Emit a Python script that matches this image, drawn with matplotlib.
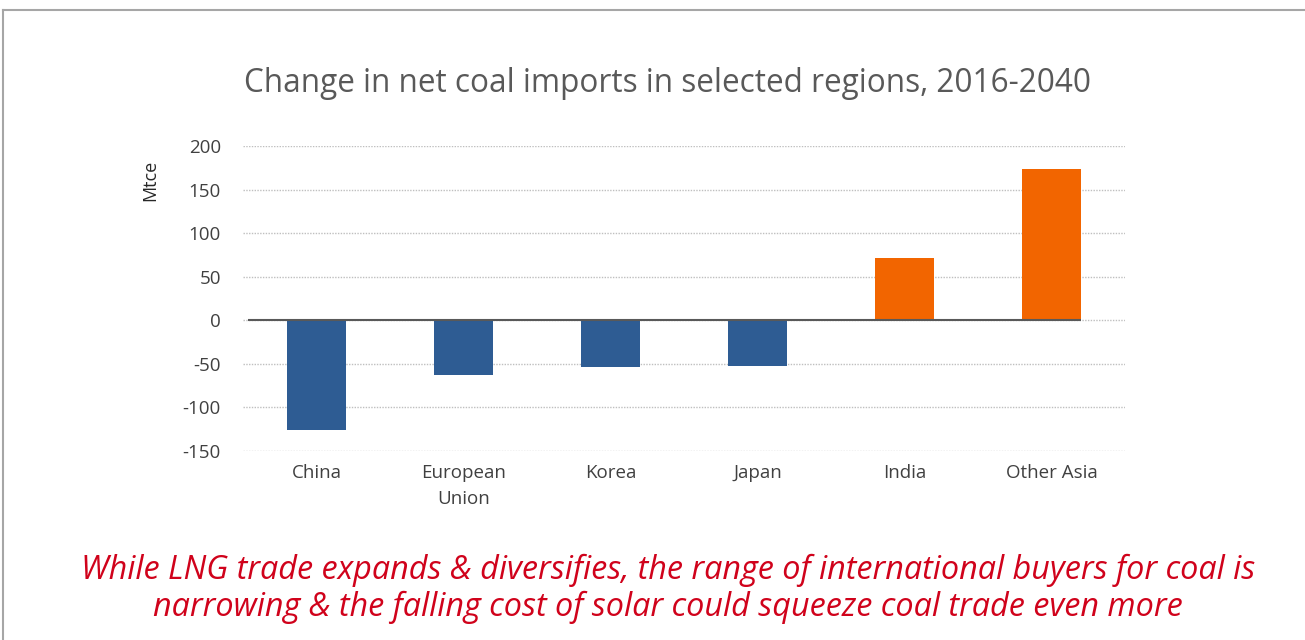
import matplotlib
matplotlib.use("Agg")
import matplotlib.pyplot as plt
from matplotlib.lines import Line2D

categories = ["China", "European\nUnion", "Korea", "Japan", "India", "Other Asia"]
values = [-126, -63, -54, -52, 72, 174]
bar_colors = ["#2E5C93", "#2E5C93", "#2E5C93", "#2E5C93", "#F26500", "#F26500"]
yticks = [-150, -100, -50, 0, 50, 100, 150, 200]
title = "Change in net coal imports in selected regions, 2016-2040"
ylabel = "Mtce"
caption = ("While LNG trade expands & diversifies, the range of international buyers for coal is\n"
           "narrowing & the falling cost of solar could squeeze coal trade even more")

plt.rcParams['font.family'] = ['Open Sans', 'DejaVu Sans']

W, H = 1305, 640
fig = plt.figure(figsize=(W / 100, H / 100), dpi=100)
fig.patch.set_facecolor("white")

ax = fig.add_axes([243 / W, 1 - 451 / H, 882 / W, (451 - 146) / H])
x = list(range(len(categories)))
ax.bar(x, values, width=0.395, color=bar_colors, zorder=3)
ax.set_xlim(-0.5, len(categories) - 0.5)
ax.set_ylim(-150, 200)
ax.set_yticks(yticks)
ax.set_yticklabels([str(v) for v in yticks])
ax.set_xticks(x)
ax.set_xticklabels(categories, linespacing=1.6)
for s in ax.spines.values():
    s.set_visible(False)
ax.tick_params(axis="both", length=0, labelsize=13.5, labelcolor="#404040")
ax.tick_params(axis="y", pad=16)
ax.tick_params(axis="x", pad=9)
ax.grid(axis="y", color="#BFBFBF", linestyle=(0, (1, 1)), linewidth=1, zorder=0)
ax.hlines(0, -0.466, len(categories) - 1 + 0.1975, color="#595959", linewidth=1.5, zorder=4)

fig.text(150 / W, 1 - 180 / H, ylabel, rotation=90, ha="center", va="center",
         fontsize=13, color="#262626")
fig.text(668 / W, 1 - 83 / H, title, ha="center", va="center", fontsize=22.7, color="#595959")
fig.text(668 / W, 1 - 589 / H, caption, ha="center", va="center", fontsize=23.3,
         color="#D0021B", style="italic", linespacing=1.15)

fig.add_artist(Line2D([3 / W, 1], [1 - 10 / H, 1 - 10 / H], transform=fig.transFigure,
                      color="#A6A6A6", linewidth=1.5))
fig.add_artist(Line2D([3 / W, 3 / W], [0, 1 - 10 / H], transform=fig.transFigure,
                      color="#A6A6A6", linewidth=1.5))

fig.savefig("out.png", dpi=100)
